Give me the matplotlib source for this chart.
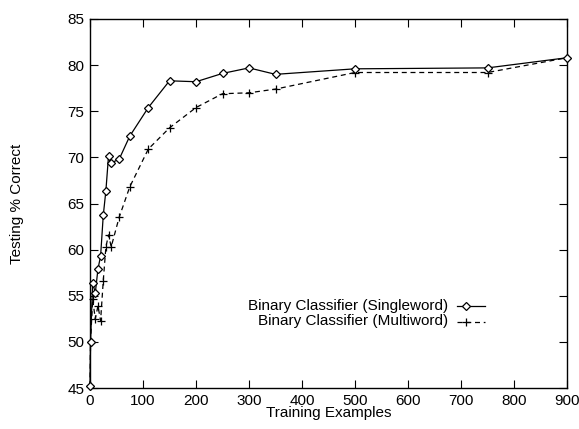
import matplotlib
matplotlib.use("Agg")
import matplotlib.pyplot as plt
from matplotlib.lines import Line2D

plt.rcParams['font.family'] = ['Liberation Sans', 'DejaVu Sans']

single_x = [0, 1, 5, 10, 15, 20, 25, 30, 35, 40, 55, 75, 110, 150, 200, 250, 300, 350, 500, 750, 900]
single_y = [45.2, 50.0, 56.4, 55.3, 57.9, 59.3, 63.7, 66.4, 70.2, 69.4, 69.8, 72.3, 75.4, 78.3, 78.2, 79.1, 79.7, 79.0, 79.6, 79.7, 80.8]

multi_x = [0, 1, 5, 10, 15, 20, 25, 30, 35, 40, 55, 75, 110, 150, 200, 250, 300, 350, 500, 750, 900]
multi_y = [45.2, 50.0, 54.6, 52.5, 53.9, 52.3, 56.6, 60.3, 61.6, 60.3, 63.5, 66.8, 70.9, 73.2, 75.4, 76.9, 77.0, 77.4, 79.2, 79.2, 80.8]

labels = ["Binary Classifier (Singleword)", "Binary Classifier (Multiword)"]

fig = plt.figure(figsize=(5.79, 4.29), dpi=100)
ax = fig.add_axes([90/579, 1 - 388/429, (567-90)/579, (388-19)/429])

ax.plot(multi_x, multi_y, color='black', lw=0.9, ls=(0, (4, 3)), marker='+', ms=6, mew=0.9, zorder=2, clip_on=False)
ax.plot(single_x, single_y, color='black', lw=0.9, marker='D', ms=4.3, mfc='white', mew=0.9, zorder=3, clip_on=False)

ax.set_xlim(0, 900)
ax.set_ylim(45, 85)
ax.set_xticks(range(0, 901, 100))
ax.set_yticks(range(45, 86, 5))
ax.tick_params(direction='in', length=6, width=0.8, top=True, right=True, labelsize=11, pad=4, colors='black')
for s in ax.spines.values():
    s.set_linewidth(1.0)
ax.set_xlabel("Training Examples", fontsize=11, labelpad=-1)
ax.set_ylabel("Testing % Correct", fontsize=11, labelpad=31)

# gnuplot-style key: right-aligned text followed by sample
key_rows = [(306, dict(ls='-', marker='D', ms=4.3, mfc='white')),
            (321.5, dict(ls=(0, (4, 3)), marker='+', ms=6, mfc='none'))]
for lab, (ypix, st) in zip(labels, key_rows):
    yf = 1 - ypix/429
    fig.text(448/579, yf, lab, ha='right', va='center', fontsize=11)
    fig.add_artist(Line2D([457/579, 485/579], [yf, yf], color='black', lw=0.9, ls=st['ls']))
    fig.add_artist(Line2D([466/579], [yf], color='black', marker=st['marker'], ms=st['ms'], mfc=st['mfc'], mew=0.9, ls='none'))

fig.savefig("out.png", dpi=100)
